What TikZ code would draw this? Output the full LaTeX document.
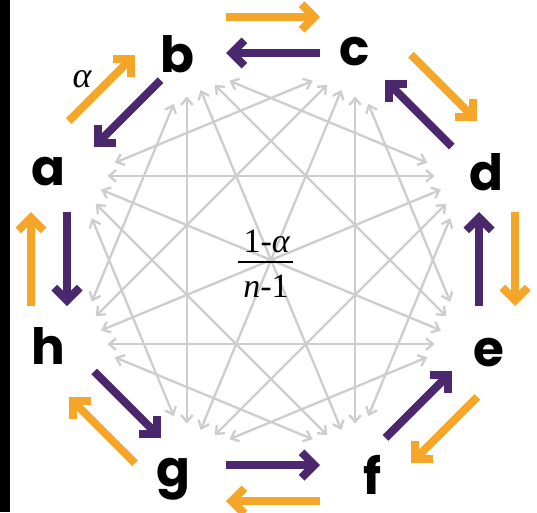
\documentclass[tikz,border=0pt]{standalone}
\usepackage{fontspec}
\usetikzlibrary{arrows.meta,calc}
\newfontfamily\lblfont{Poppins}
\newfontfamily\serfont{Liberation Serif}
\definecolor{myorange}{RGB}{245,165,40}
\definecolor{mypurple}{RGB}{75,40,110}
\definecolor{mygrey}{RGB}{205,205,205}
\tikzset{
  lbl/.style={font=\lblfont\bfseries\fontsize{50}{50}\selectfont, anchor=base, inner sep=0pt, text=black},
  greyline/.style={draw=mygrey, line width=2.3pt, {Straight Barb[angle=80:9pt]}-{Straight Barb[angle=80:9pt]}},
  orangearrow/.style={draw=myorange, line width=8pt, -{Straight Barb[angle=90:18pt]}},
  purplearrow/.style={draw=mypurple, line width=8pt, -{Straight Barb[angle=90:18pt]}},
  fractext/.style={font=\serfont\fontsize{34}{34}\selectfont, anchor=base, inner sep=0pt}
}
\begin{document}
\begin{tikzpicture}[x=1pt,y=-1pt]
\useasboundingbox (0,0) rectangle (537,512);
\fill[white] (0,0) rectangle (537,512);
\fill[black] (0,0) rectangle (10,512);
\coordinate (O) at (270,260);
% ports on the grey circle
\foreach \i in {0,...,7}{
  \foreach \d in {2,...,6}{
    \pgfmathtruncatemacro{\j}{mod(\i+\d,8)}
    \pgfmathsetmacro{\t}{157.5-45*\i+(\d-4)*4.7}
    \coordinate (p\i-\j) at ({271+184*cos(\t)},{260-184*sin(\t)});
  }
}
% grey double arrows between non-adjacent nodes
\foreach \i in {0,...,7}{
  \foreach \d in {2,...,6}{
    \pgfmathtruncatemacro{\j}{mod(\i+\d,8)}
    \ifnum\i<\j \draw[greyline] (p\i-\j) -- (p\j-\i); \fi
  }
}
% coloured arrows between adjacent nodes
\foreach \i in {0,...,7}{
  \pgfmathsetmacro{\ph}{135-45*\i}
  \coordinate (os\i) at ({273+242*cos(\ph)-47*sin(\ph)},{259-242*sin(\ph)-47*cos(\ph)});
  \coordinate (oe\i) at ({273+242*cos(\ph)+47*sin(\ph)},{259-242*sin(\ph)+47*cos(\ph)});
  \coordinate (ps\i) at ({273+206*cos(\ph)+47*sin(\ph)},{259-206*sin(\ph)+47*cos(\ph)});
  \coordinate (pe\i) at ({273+206*cos(\ph)-47*sin(\ph)},{259-206*sin(\ph)-47*cos(\ph)});
  \draw[orangearrow] (os\i) -- (oe\i);
  \draw[purplearrow] (ps\i) -- (pe\i);
}
% labels
\node[lbl] (a) at (48,185) {a};
\node[lbl] (b) at (177,72) {b};
\node[lbl] (c) at (355,65) {c};
\node[lbl] (d) at (486,190) {d};
\node[lbl] (e) at (489,366) {e};
\node[lbl] (f) at (372,494) {f};
\node[lbl] (g) at (173,486) {g};
\node[lbl] (h) at (48,364) {h};
\node[font=\serfont\itshape\fontsize{36}{36}\selectfont, inner sep=0pt] (alpha) at (82,79) {α};
% fraction
\node[fractext] (num) at (267,252) {1-\textit{α}};
\node[fractext] (den) at (266,297) {\textit{n}-1};
\coordinate (barL) at (238,262);
\coordinate (barR) at (293,262);
\draw[line width=2pt] (barL) -- (barR);
\end{tikzpicture}
\end{document}
